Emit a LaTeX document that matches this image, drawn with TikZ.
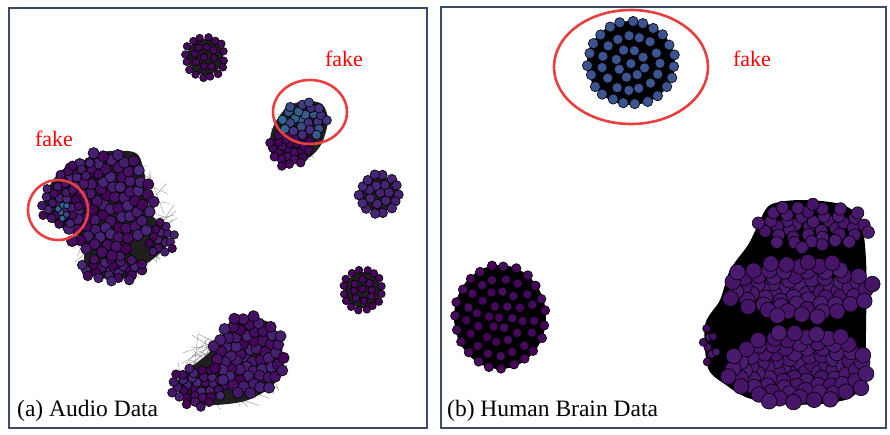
\documentclass[tikz,border=0pt]{standalone}
\usepackage{fontspec}
\setmainfont{Liberation Serif}
\definecolor{vA}{HTML}{440154}
\definecolor{vA2}{HTML}{470E61}
\definecolor{vB}{HTML}{482878}
\definecolor{vB2}{HTML}{46206F}
\definecolor{vC}{HTML}{3E4A89}
\definecolor{vD}{HTML}{31688E}
\definecolor{frm}{HTML}{3B4A68}
\definecolor{fakered}{HTML}{E8403F}
\definecolor{bblue}{HTML}{3F5694}
\definecolor{bblue2}{HTML}{3B5290}
\definecolor{bpur}{HTML}{461366}
\definecolor{bpur2}{HTML}{4A1C70}
% Vogel-spiral cluster: cx cy rx ry n dotradius colA colB
\newcommand{\vclu}[8]{%
  \foreach \i in {1,...,#5}{%
    \pgfmathsetmacro{\rr}{sqrt((\i-0.5)/#5)}%
    \pgfmathsetmacro{\ang}{10*mod(\i*13.7508,36)}%
    \pgfmathsetmacro{\px}{#1+#3*\rr*cos(\ang)+rand}%
    \pgfmathsetmacro{\py}{#2+#4*\rr*sin(\ang)+rand}%
    \pgfmathsetmacro{\mx}{int(100*rnd)}%
    \filldraw[dotst, fill=#7!\mx!#8] (\px,\py) circle[radius=#6pt];
  }}
% ring cluster: cx cy rx ry rings perring dotradius colA colB
\newcommand{\rclu}[9]{%
  \foreach \k in {0,...,#5}{%
    \pgfmathtruncatemacro{\nk}{max(1,round(#6*\k))}%
    \pgfmathsetmacro{\off}{360*rnd}%
    \foreach \j in {1,...,\nk}{%
      \pgfmathsetmacro{\ang}{\off+360*\j/\nk}%
      \pgfmathsetmacro{\px}{#1+#3*\k/#5*cos(\ang)+1.2*rand}%
      \pgfmathsetmacro{\py}{#2+#4*\k/#5*sin(\ang)+1.2*rand}%
      \pgfmathsetmacro{\mx}{int(100*rnd)}%
      \filldraw[dotst, fill=#8!\mx!#9] (\px,\py) circle[radius=#7pt];
    }}}
% random edge lines inside an ellipse: cx cy rx ry count
\newcommand{\meshlines}[5]{%
  \foreach \k in {1,...,#5}{%
    \pgfmathsetmacro{\aa}{360*rnd}\pgfmathsetmacro{\ra}{sqrt(rnd)}%
    \pgfmathsetmacro{\ab}{360*rnd}\pgfmathsetmacro{\rb}{sqrt(rnd)}%
    \draw[meshst] ({#1+#3*\ra*cos(\aa)},{#2+#4*\ra*sin(\aa)}) -- ({#1+#3*\rb*cos(\ab)},{#2+#4*\rb*sin(\ab)});
  }}
\begin{document}
\begin{tikzpicture}[x=1pt,y=-1pt,
  dotst/.style={draw=black,line width=0.6pt},
  meshst/.style={draw=black!55,line width=0.25pt},
  meshbg/.style={fill=black!88},
  edgebg/.style={fill=black},
  frame/.style={draw=frm,line width=1.1pt},
  fakering/.style={draw=fakered,line width=2.6pt},
  faketxt/.style={text=red,font=\fontsize{22}{24}\selectfont,inner sep=0pt,anchor=base},
  captxt/.style={font=\fontsize{23.5}{26}\selectfont,inner sep=0pt,anchor=base west}]
\pgfmathsetseed{7}
\useasboundingbox[fill=white] (0,0) rectangle (890,434);
% frames
\draw[frame] (9,8) rectangle (427,428);
\draw[frame] (441,7) rectangle (886,428);

% ---------- panel (a) ----------
% top small cluster
\meshlines{205}{57}{22}{22}{30}
\fill[meshbg] (205,57) circle[radius=18pt];
\rclu{205}{57}{20}{20}{2}{8}{3.8}{vA}{vA2}
% top-right (fake) cluster
\meshlines{298}{133}{28}{30}{40}
\fill[meshbg] plot[smooth cycle] coordinates {(274,125) (287,107) (305,101) (322,104) (328,120) (322,143) (310,157) (292,163) (273,156) (270,140)};
\vclu{290}{148}{22}{19}{28}{4.4}{vA}{vA2}
\vclu{304}{119}{25}{18}{24}{4.7}{vB}{vD}
% right cluster
\meshlines{379}{194}{22}{22}{30}
\fill[meshbg] (379,194) circle[radius=18pt];
\rclu{379}{194}{19}{19}{2}{7}{4.8}{vB}{vB2}
% lower-right cluster
\meshlines{363}{290}{22}{22}{30}
\fill[meshbg] (363,290) circle[radius=18pt];
\rclu{363}{290}{20}{20}{2}{8}{3.8}{vA}{vA2}
% big left cluster
\meshlines{118}{218}{60}{66}{120}
\fill[meshbg] plot[smooth cycle] coordinates {(50,185) (62,170) (85,160) (102,152) (128,151) (139,156) (145,176) (150,212) (165,228) (167,245) (158,255) (145,265) (132,277) (110,279) (90,274) (84,262) (84,238) (62,228) (46,216) (44,200)};
\vclu{161}{238}{16}{17}{16}{4.2}{vA}{vB}
\vclu{113}{269}{33}{14}{26}{4.8}{vB}{vA}
\vclu{106}{203}{48}{54}{90}{5.6}{vA}{vB}
\vclu{80}{172}{22}{9}{10}{4.6}{vA}{vB}
\vclu{60}{204}{21}{22}{24}{4.4}{vA}{vB}
\vclu{63}{210}{6}{9}{6}{3.1}{vD}{vC}
% bottom cluster
\meshlines{232}{367}{58}{45}{90}
\fill[meshbg] plot[smooth cycle] coordinates {(178,380) (190,368) (212,350) (228,327) (250,319) (270,323) (281,342) (282,368) (271,387) (245,401) (210,405) (183,399)};
\vclu{197}{387}{28}{21}{34}{4.5}{vA}{vB}
\vclu{249}{355}{37}{41}{64}{5.6}{vA}{vB}

% rings and labels (a)
\draw[fakering] (58,210) circle[radius=30pt];
\draw[fakering] (310,112) ellipse[x radius=37pt, y radius=32pt];
\node[faketxt] (fa1) at (54,146.5) {fake};
\node[faketxt] (fa2) at (344,66.5) {fake};
\node[captxt] (capa) at (17,416) {(a) Audio Data};

% ---------- panel (b) ----------
% fake top cluster
\fill[edgebg] (631,63) ellipse[x radius=44pt, y radius=42pt];
\rclu{631}{63}{43}{41}{3}{7.5}{5.1}{bblue}{bblue2}
% bottom-left cluster
\fill[edgebg] (500,317) ellipse[x radius=46pt, y radius=52pt];
\rclu{500}{317}{45}{51}{4}{5.8}{4.7}{vA}{vA2}
% big right cluster
\fill[edgebg] plot[smooth cycle] coordinates {(770,205) (800,200) (840,204) (860,219) (866,260) (866,330) (864,380) (850,398) (820,404) (780,404) (748,398) (726,385) (708,368) (705,325) (720,300) (730,270) (748,245) (758,225)};
\vclu{813}{226}{58}{23}{42}{6.2}{bpur}{bpur2}
\vclu{799}{289}{74}{30}{68}{7.8}{bpur}{bpur2}
\vclu{799}{368}{72}{38}{86}{7.8}{bpur}{bpur2}
\vclu{709}{345}{8}{20}{8}{4}{vA}{bpur2}

\draw[fakering] (631,67) ellipse[x radius=77pt, y radius=57pt];
\node[faketxt] (fb1) at (752,66.5) {fake};
\node[captxt] (capb) at (447,416) {(b) Human Brain Data};
\end{tikzpicture}
\end{document}
